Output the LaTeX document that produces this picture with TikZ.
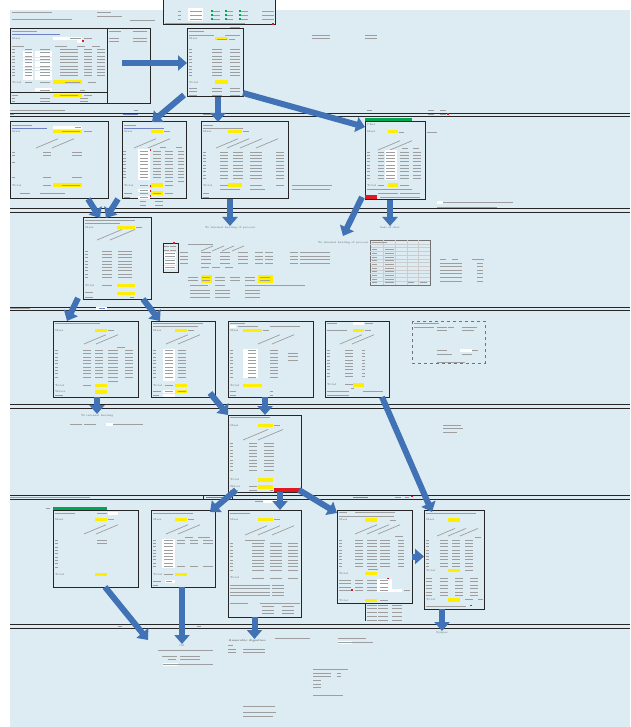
\documentclass[tikz,border=0pt]{standalone}
\usepackage{tikz}
\usetikzlibrary{arrows.meta}

\definecolor{sheetbg}{RGB}{220,236,242}
\definecolor{hlyellow}{RGB}{255,238,0}
\definecolor{flowblue}{RGB}{66,114,182}
\definecolor{okgreen}{RGB}{0,166,81}
\definecolor{badred}{RGB}{226,24,32}
\definecolor{inblue}{RGB}{110,130,200}

% rows of unreadable cell text: x/length pairs, first y, count, step
\newcommand{\txtrows}[4]{\foreach \cx/\cl in {#1}{\foreach \r in {1,...,#3}{\draw[txt] (\cx,{#2+(\r-1)*#4}) -- ++(\cl,0);}}}
% slanted column headers
\newcommand{\heads}[3]{\foreach \hx in {#1}{\draw[txt,line width=0.7pt] (\hx,#2) -- ++(#3,{-0.42*#3});}}
\newcommand{\ycell}[4]{\fill[hlyellow] (#1,#2) rectangle (#3,#4);}
\newcommand{\wcell}[4]{\fill[white] (#1,#2) rectangle (#3,#4);}

\begin{document}
\begin{tikzpicture}[x=1pt,y=-1pt,
  sheet/.style={draw=black!85,line width=1pt,fill=sheetbg,anchor=north west,inner sep=0pt,outer sep=0pt},
  dashbox/.style={draw=black!55,dashed,line width=0.8pt},
  txt/.style={black!38,line width=0.8pt},
  lbl/.style={anchor=west,inner sep=0pt,text=black!60,font=\fontsize{2.8}{3}\selectfont},
  note/.style={inner sep=0.5pt,text=black!60,font=\fontsize{2.8}{3}\selectfont},
  flow/.style={flowblue,line width=6pt,-{Triangle[width=15pt,length=9pt]}},
  sepline/.style={black!85,line width=0.9pt}]

\useasboundingbox (0,0) rectangle (630,727);
\fill[white] (0,0) rectangle (630,727);
\fill[sheetbg] (10,10) rectangle (630,727);

% section separators
\foreach \ya/\yb in {113/116.5,208/212,307/310.5,404/408,495/499,624/628}{
  \draw[sepline] (10,\ya) -- (630,\ya);
  \draw[sepline] (10,\yb) -- (630,\yb);
}

% ---------------- top row ----------------
\node[sheet,minimum width=112pt,minimum height=25pt] (Z) at (163,0) {};
\wcell{188}{8}{203}{21}
\txtrows{178/3,190/12,212/8,225/8,240/8,262/12}{11}{3}{4}
\foreach \gy in {11,15,19}{\foreach \gx in {211,225,239}{\fill[okgreen] (\gx,\gy-1) rectangle ++(1.6,1.6);}}
\txtrows{165/80}{23}{1}{0}
\fill[badred] (272,23) rectangle ++(2,2);
\txtrows{230/10}{27}{1}{0}

\txtrows{12/40}{12}{1}{0}
\txtrows{12/60}{19}{1}{0}
\txtrows{97/14}{12}{1}{0}
\txtrows{97/25}{16}{1}{0}
\txtrows{130/25}{20}{1}{0}
\txtrows{312/18,365/12}{35}{2}{3}

\node[sheet,minimum width=97pt,minimum height=75pt] (A) at (10,29) {};
\node[sheet,minimum width=43pt,minimum height=75pt] (Aside) at (107,29) {};
\draw[black!85,line width=1pt] (10,93) -- (107,93);
\txtrows{12/25}{31.5}{1}{0}
\draw[inblue,line width=0.8pt] (12,34.5) -- ++(48,0);
\node[lbl] at (12,38.5) {Mass};
\wcell{53}{37}{82}{40}
\txtrows{70/11,84/8}{38.5}{1}{0}
\wcell{77}{40.5}{82}{43}
\fill[badred] (82,40.5) rectangle ++(1.6,1.6);
\txtrows{12/12,55/12,77/8,92/8}{46}{1}{0}
\foreach \r in {1,...,9}{\wcell{23}{{47.8+\r*3.3}}{33}{{50.6+\r*3.3}}\wcell{35}{{47.8+\r*3.3}}{52}{{50.6+\r*3.3}}}
\txtrows{12/3,25/7,40/10,60/18,84/8,97/8}{49.5}{9}{3.3}
\node[lbl] at (12,82.3) {Total};
\txtrows{25/7,40/10}{82.3}{1}{0}
\ycell{53}{80.5}{82}{84}
\txtrows{65/15,88/8}{82.3}{1}{0}
\wcell{35}{88.5}{52}{91.5}
\txtrows{40/10,80/5}{90}{1}{0}
\ycell{53}{94}{82}{97}
\txtrows{12/6,60/18,84/8}{95.5}{1}{0}
\txtrows{12/3,40/10,80/8}{98.8}{2}{3}
\txtrows{109/12,133/14}{31}{1}{0}
\txtrows{109/10,133/14}{38}{2}{3.5}

\node[sheet,minimum width=56pt,minimum height=68pt] (B) at (187,29) {};
\txtrows{189/15}{31}{1}{0}
\txtrows{189/25,225/15}{35}{1}{0}
\node[lbl] at (189,39) {Mass};
\ycell{215}{37.5}{228}{40.5}
\txtrows{217/10,229/6}{39}{1}{0}
\txtrows{189/3,212/10,230/10}{49.5}{9}{3.3}
\node[lbl] at (189,82.3) {Total};
\ycell{215}{80.5}{228}{84}
\txtrows{189/8,212/10,230/10}{88}{3}{3.8}

% ---------------- second row ----------------
\txtrows{10/55,134/4}{110}{1}{0}
\txtrows{10/4,203/12}{114.8}{1}{0}
\draw[inblue,line width=0.8pt] (123,114.8) -- ++(15,0);
\txtrows{367/5,428/6,440/6}{110}{1}{0}
\txtrows{428/6,440/6}{114.8}{1}{0}
\fill[badred] (447,113.5) rectangle ++(2,1.8);

\node[sheet,minimum width=98pt,minimum height=77pt] (C) at (10,122) {};
\txtrows{12/20}{125}{1}{0}
\draw[inblue,line width=0.8pt] (12,128) -- ++(35,0);
\wcell{53}{126}{82}{129}
\txtrows{75/6}{127.5}{1}{0}
\node[lbl] at (12,131.5) {Mass};
\ycell{53}{130}{82}{133.5}
\txtrows{62/18,84/8}{131.7}{1}{0}
\heads{36,52}{148}{22}
\txtrows{12/3,43/8,72/10}{152.5}{2}{3.2}
\txtrows{12/3}{162}{1}{0}
\txtrows{12/3,43/8,72/10}{177.5}{1}{0}
\node[lbl] at (12,185.2) {Total};
\txtrows{43/8}{185.2}{1}{0}
\ycell{53}{183.5}{82}{187}
\txtrows{62/18}{185.2}{1}{0}
\txtrows{20/10,40/25}{193}{1}{0}

\node[sheet,minimum width=64pt,minimum height=77pt] (D) at (122,122) {};
\txtrows{124/12}{125}{1}{0}
\draw[inblue,line width=0.8pt] (124,128) -- ++(40,0);
\node[lbl] at (124,131.7) {Mass};
\ycell{151}{130.5}{163}{133.5}
\txtrows{164/6}{131.7}{1}{0}
\heads{134,148}{148}{22}
\txtrows{160/6,176/6}{147.5}{1}{0}
\wcell{138}{149.5}{150}{180}
\txtrows{123/3,140/8,153/8,165/8,178/6}{151.5}{9}{3.3}
\txtrows{165/8,178/6}{181.5}{1}{0}
\node[lbl] at (124,185.2) {Total};
\txtrows{140/8}{185.2}{1}{0}
\ycell{151}{183.5}{163}{187}
\txtrows{165/8}{185.2}{1}{0}
\wcell{138}{189}{150}{192}
\txtrows{140/8}{190.5}{1}{0}
\ycell{151}{191.5}{163}{195}
\txtrows{124/8,140/8,153/8,165/8}{193.5}{1}{0}
\wcell{138}{196}{150}{199}
\txtrows{124/6,140/8}{197.5}{1}{0}
\foreach \ry in {149,185.5,190.5,195}{\fill[badred] (149.5,\ry) rectangle ++(1.8,1.8);}
\txtrows{140/6,155/8}{201.5}{2}{4}

\node[sheet,minimum width=87pt,minimum height=77pt] (E) at (201,122) {};
\txtrows{203/10}{125}{1}{0}
\txtrows{203/40}{128}{1}{0}
\node[lbl] at (203,131.7) {Mass};
\ycell{228}{130.5}{242}{133.5}
\txtrows{243/6}{131.7}{1}{0}
\heads{216,227,240,256}{148}{22}
\txtrows{203/3,220/8,233/10,250/12,276/8}{152}{9}{3.3}
\node[lbl] at (203,185.2) {Total};
\txtrows{220/8}{185.2}{1}{0}
\ycell{228}{183.5}{242}{187}
\txtrows{250/12,276/8}{185.2}{1}{0}
\txtrows{220/20,250/15}{189}{1}{0}
\txtrows{203/6}{193}{2}{4}
\txtrows{292/40}{185.5}{1}{0}
\txtrows{292/38}{189}{1}{0}

\fill[okgreen] (365,118.5) rectangle (412,122);
\node[sheet,minimum width=60pt,minimum height=78pt] (F) at (365,122) {};
\node[lbl] at (367,125) {Char};
\node[lbl] at (367,132) {Mass};
\ycell{388}{130.5}{398}{133.5}
\txtrows{399/5,427/10}{132}{1}{0}
\heads{378,390}{150}{22}
\txtrows{402/6,413/6}{148}{1}{0}
\wcell{385}{150}{397}{180}
\txtrows{367/3,378/6,386/9,400/9,413/8}{152}{9}{3.3}
\node[lbl] at (367,185.2) {Total};
\txtrows{378/6}{185.2}{1}{0}
\ycell{388}{183.5}{398}{187}
\txtrows{400/9}{185.2}{1}{0}
\txtrows{367/45}{189}{1}{0}
\txtrows{378/20,400/20}{193}{1}{0}
\fill[badred] (365,195) rectangle (377,199.5);
\txtrows{380/40}{197.5}{1}{0}
\wcell{437}{201}{443}{204}
\txtrows{443/70}{202.5}{1}{0}
\txtrows{437/60}{207}{1}{0}

% ---------------- third row ----------------
\node[sheet,minimum width=68pt,minimum height=81pt] (G) at (83,218) {};
\txtrows{85/50}{220.5}{1}{0}
\txtrows{85/35}{223.5}{1}{0}
\node[lbl] at (85,227.2) {Mass};
\ycell{117}{225.5}{135}{229}
\txtrows{136/6}{227.2}{1}{0}
\heads{97,110}{240}{25}
\txtrows{85/3,102/10,118/14}{251}{9}{3.3}
\node[lbl] at (85,285.2) {Total};
\txtrows{102/10}{285.2}{1}{0}
\ycell{117}{283.5}{135}{287}
\txtrows{85/8}{292.8}{1}{0}
\ycell{117}{291.5}{135}{295}
\txtrows{85/8,130/4}{297.5}{1}{0}

\node[sheet,line width=1pt,minimum width=15pt,minimum height=29pt] (H) at (163,243) {};
\fill[badred] (173,241.5) rectangle ++(2.2,2.2);
\txtrows{164/5,170/6}{246.5}{2}{3.5}
\foreach \ry in {253,256.5,260,263.5,267}{\wcell{164}{\ry-1.5}{176}{\ry+1.5}}
\txtrows{165/5,170/5}{253}{5}{3.5}
\txtrows{188/25}{244.5}{1}{0}
\heads{201,212,222,232}{251}{12}
\txtrows{180/8,201/10,220/10,238/10,255/8,265/8,290/8}{252.5}{4}{3.5}
\txtrows{201/8,212/8,225/8}{267}{1}{0}
\ycell{201}{275}{212}{282.5}
\ycell{258}{275}{273}{282.5}
\txtrows{188/10,202/8,215/10,230/10,245/10,260/10}{277}{2}{3.5}
\txtrows{190/18,215/10,245/20,265/40}{285}{1}{0}
\txtrows{190/20,215/15,245/15}{290}{3}{3.5}
\txtrows{300/30}{252.5}{4}{3.5}

\node[dashbox,anchor=north west,inner sep=0pt,minimum width=60pt,minimum height=45pt] (I) at (370,240) {};
\foreach \gy in {0,...,10}{\draw[black!20,line width=0.6pt] (370,{244+\gy*3.7}) -- (430,{244+\gy*3.7});}
\foreach \gx in {383,395,407,418}{\draw[black!20,line width=0.6pt] (\gx,240) -- (\gx,285);}
\draw[dashbox] (370,240) rectangle (430,285);
\txtrows{372/15}{242.5}{1}{0}
\txtrows{372/5,385/9}{249.5}{10}{3.7}
\txtrows{408/6,420/7}{282.5}{1}{0}
\txtrows{440/6,452/6,472/12}{259.5}{1}{0}
\txtrows{440/12,452/10,477/6}{263}{6}{3.6}

\node[note] (heatE) at (230,226) [anchor=north] {To internal heating of process};
\node[note] (heatF) at (343,241) [anchor=north] {To internal heating of process};
\node[note] (saleF) at (390,226) [anchor=north] {Sale of char};

% ---------------- fourth row ----------------
\txtrows{10/20}{308.7}{1}{0}
\wcell{96}{307.3}{107}{310}
\draw[inblue,line width=0.8pt] (99,308.7) -- ++(6,0);

\node[sheet,minimum width=85pt,minimum height=76pt] (J) at (53,321) {};
\txtrows{55/45}{323}{1}{0}
\node[lbl] at (55,330.2) {Mass};
\ycell{95}{328.5}{107}{332}
\txtrows{108/6}{330.2}{1}{0}
\heads{84,96}{344}{22}
\txtrows{117/8}{347}{1}{0}
\txtrows{55/3,83/8,95/8,108/10,125/8}{350.5}{9}{3.3}
\txtrows{108/10}{381}{1}{0}
\node[lbl] at (55,385.2) {Total};
\txtrows{83/8}{385.2}{1}{0}
\ycell{95}{383.5}{107}{387}
\node[lbl] at (55,391.7) {Water};
\ycell{95}{390}{107}{393.5}
\txtrows{55/8}{395.5}{1}{0}

\node[sheet,minimum width=64pt,minimum height=76pt] (K) at (151,321) {};
\txtrows{153/50}{323}{1}{0}
\txtrows{153/45}{326.5}{1}{0}
\node[lbl] at (153,330.2) {Mass};
\ycell{175}{328.5}{187}{332}
\txtrows{188/6}{330.2}{1}{0}
\heads{166,178}{344}{22}
\wcell{163}{349}{175}{381}
\txtrows{153/3,165/8,178/8}{350.5}{9}{3.3}
\node[lbl] at (153,385.2) {Total};
\txtrows{165/8}{385.2}{1}{0}
\ycell{175}{383.5}{187}{387}
\wcell{163}{389.5}{175}{393}
\ycell{175}{389.5}{187}{393}
\txtrows{153/8,165/8,178/8}{391.2}{1}{0}
\wcell{163}{394}{175}{397}
\txtrows{153/6}{395.5}{1}{0}

\node[sheet,minimum width=85pt,minimum height=76pt] (L) at (228,321) {};
\txtrows{230/15}{323}{1}{0}
\wcell{230}{324.5}{236}{327.5}
\txtrows{238/20,270/30}{326}{1}{0}
\node[lbl] at (230,330.2) {Mass};
\ycell{243}{328.5}{262}{332}
\txtrows{263/6}{330.2}{1}{0}
\heads{258,272}{344}{22}
\wcell{243}{349}{258}{378}
\txtrows{230/3,248/8,270/8}{350.5}{9}{3.3}
\txtrows{288/10}{353}{3}{3.7}
\node[lbl] at (230,385.2) {Total};
\txtrows{248/8}{385.2}{1}{0}
\ycell{243}{383.5}{262}{387}
\txtrows{230/6,270/3}{391.5}{2}{3.5}

\node[sheet,minimum width=64pt,minimum height=76pt] (M) at (325,321) {};
\txtrows{327/10}{323}{1}{0}
\wcell{353}{321.5}{364}{324.5}
\txtrows{365/8}{323}{1}{0}
\txtrows{327/20}{330.2}{1}{0}
\ycell{353}{328.5}{364}{332}
\txtrows{365/6}{330.2}{1}{0}
\heads{340,352}{344}{22}
\txtrows{327/3,345/8,362/3}{350}{9}{3.3}
\node[lbl] at (327,384.8) {Total};
\txtrows{345/8}{384.8}{1}{0}
\ycell{353}{383}{364}{386.5}
\txtrows{351/3}{388}{1}{0}
\txtrows{327/22,363/20}{391.5}{1}{0}
\txtrows{327/22}{395}{1}{0}

\draw[dashbox] (412,321) rectangle (485,363);
\txtrows{414/25}{323.5}{1}{0}
\txtrows{414/20,437/10,448/6,462/15}{327}{1}{0}
\txtrows{437/10,462/12}{330.5}{1}{0}
\wcell{460}{348.5}{472}{351.5}
\txtrows{437/10,472/6}{350}{1}{0}
\txtrows{437/15,462/10}{354.5}{1}{0}
\txtrows{437/28}{362}{1}{0}

\node[note] (heatJ) at (97,414) [anchor=north] {To internal heating};
\wcell{106}{423}{113}{426}
\txtrows{70/12,84/12,113/30}{424.5}{1}{0}

% ---------------- fifth row ----------------
\node[sheet,minimum width=73pt,minimum height=77pt] (O) at (228,415) {};
\txtrows{230/40}{417.5}{1}{0}
\node[lbl] at (230,425.2) {Mass};
\ycell{258}{423.5}{273}{427}
\txtrows{274/6}{425.2}{1}{0}
\heads{243,258}{440}{25}
\txtrows{230/3,249/8,264/10}{443.5}{9}{3.3}
\node[lbl] at (230,479.8) {Total};
\ycell{258}{478}{273}{481.5}
\node[lbl] at (230,486.7) {Water};
\txtrows{249/8}{486.7}{1}{0}
\ycell{258}{485}{273}{488.5}
\txtrows{230/8,249/8,270/3}{490}{1}{0}
\fill[badred] (274,487.5) rectangle (302,491.5);

\txtrows{443/18}{425}{1}{0}
\txtrows{443/20}{428.5}{1}{0}
\txtrows{443/14}{432}{1}{0}

% ---------------- sixth row ----------------
\txtrows{10/80}{497}{1}{0}
\draw[black!85,line width=0.6pt] (203,495) -- (203,499) (232,495) -- (232,499);
\draw[inblue,line width=0.8pt] (206,497) -- ++(18,0) (353,497) -- ++(15,0);
\txtrows{395/6,405/4}{497}{1}{0}
\fill[badred] (411,495.5) rectangle ++(2,1.8);
\txtrows{255/8}{501}{1}{0}
\wcell{263}{499.5}{278}{502.5}

\fill[okgreen] (53,506.5) rectangle (107,510);
\txtrows{46/4}{508}{1}{0}
\node[sheet,minimum width=85pt,minimum height=77pt] (P) at (53,510) {};
\txtrows{55/20,97/10}{513}{1}{0}
\wcell{108}{511.5}{118}{514.5}
\node[lbl] at (55,519.2) {Mass};
\ycell{95}{517.5}{107}{521}
\txtrows{108/6}{519.2}{1}{0}
\heads{84,96}{534}{22}
\txtrows{55/3}{540.5}{9}{3.3}
\txtrows{97/10}{540.5}{2}{3.3}
\node[lbl] at (55,574.3) {Total};
\ycell{95}{572.5}{107}{576}

\node[sheet,minimum width=64pt,minimum height=77pt] (Q) at (151,510) {};
\txtrows{153/40}{513}{1}{0}
\node[lbl] at (153,519.2) {Mass};
\ycell{175}{517.5}{187}{521}
\txtrows{188/6}{519.2}{1}{0}
\heads{166,178}{534}{22}
\txtrows{185/8,198/12}{537}{1}{0}
\wcell{162}{538.5}{175}{568}
\txtrows{153/3,164/9}{540}{9}{3.3}
\txtrows{177/8,190/8,203/10}{540}{2}{3.3}
\txtrows{177/8,190/8,203/10}{566.4}{1}{0}
\node[lbl] at (153,574.3) {Total};
\txtrows{164/9}{574.3}{1}{0}
\ycell{175}{572.5}{187}{576}
\wcell{165}{580}{175}{583}
\txtrows{153/8,166/6}{581.5}{1}{0}
\txtrows{153/5}{585}{1}{0}

\node[sheet,minimum width=73pt,minimum height=107pt] (R) at (228,510) {};
\txtrows{230/20}{513}{1}{0}
\node[lbl] at (230,519.2) {Mass};
\ycell{258}{517.5}{273}{521}
\txtrows{274/6}{519.2}{1}{0}
\heads{245,258,272}{535}{22}
\txtrows{245/20}{540}{1}{0}
\txtrows{230/3,252/12,270/12,288/10}{543.5}{9}{3.3}
\node[lbl] at (230,578) {Total};
\txtrows{252/12,270/12,288/10}{578}{1}{0}
\txtrows{230/40,272/12}{585}{4}{3.6}
\txtrows{230/18,260/40}{603}{1}{0}
\txtrows{262/12,282/12}{606.5}{3}{3.5}

\node[sheet,minimum width=75pt,minimum height=93pt] (S) at (337,510) {};
\txtrows{339/8,355/40}{512.5}{1}{0}
\txtrows{339/55}{516}{1}{0}
\node[lbl] at (339,520) {Mass};
\ycell{365}{518}{377}{521.5}
\txtrows{390/6}{520}{1}{0}
\heads{355,367,378}{534}{22}
\txtrows{395/8}{536.5}{1}{0}
\txtrows{339/3,355/8,367/10,380/10,398/6}{540}{9}{3.3}
\txtrows{368/10}{569}{1}{0}
\node[lbl] at (339,573.3) {Total};
\ycell{365}{571.5}{377}{575}
\wcell{377}{578.5}{392}{592}
\txtrows{339/12,355/8,367/10,380/8}{580}{4}{3.5}
\wcell{392}{589}{402}{592}
\txtrows{404/6}{590.5}{1}{0}
\fill[badred] (387,577.5) rectangle ++(2,1.8);
\fill[badred] (351,589) rectangle ++(2,1.8);
\node[lbl] at (339,600.3) {Total};
\ycell{365}{598.5}{377}{602}
\txtrows{380/8}{600.3}{1}{0}
\draw[black!85,line width=1pt] (365,603) -- (365,621);
\txtrows{367/10,378/10,392/10}{605}{5}{3.8}

\node[sheet,minimum width=60pt,minimum height=99pt] (T) at (424,510) {};
\txtrows{426/50}{513}{1}{0}
\node[lbl] at (426,520) {Mass};
\ycell{448}{518}{460}{521.5}
\heads{437,448,460}{536}{18}
\txtrows{475/6}{537}{1}{0}
\txtrows{426/3,440/8,452/8,465/8}{540}{9}{3.3}
\node[lbl] at (426,570.2) {Total};
\ycell{448}{568.5}{460}{572}
\txtrows{465/8}{570.2}{1}{0}
\txtrows{426/6,440/8,455/8,470/8}{578}{6}{3.5}
\node[lbl] at (426,599.8) {Total};
\ycell{448}{598}{460}{601.5}
\txtrows{465/8,478/5}{599.8}{1}{0}
\txtrows{426/40}{606}{1}{0}
\fill[badred] (470,604.5) rectangle ++(2,1.8);

% ---------------- bottom ----------------
\txtrows{118/4,197/4}{626.3}{1}{0}
\node[note] (outPQ) at (182,644) [anchor=north] {Oil};
\txtrows{158/55}{650}{1}{0}
\txtrows{162/15,180/20}{656}{1}{0}
\txtrows{168/8,180/20}{659.5}{1}{0}
\wcell{163}{662.5}{178}{665.5}
\txtrows{163/50}{664}{1}{0}
\node[note,anchor=north west] (adR) at (228,639) {\bfseries Anaerobic digestion};
\txtrows{228/5}{645}{1}{0}
\txtrows{228/8,243/22}{649}{2}{3.5}
\txtrows{275/35}{638}{1}{0}
\txtrows{338/28}{638}{1}{0}
\wcell{338}{640.5}{352}{643.5}
\txtrows{338/35}{642}{1}{0}
\node[note] (expT) at (442,631) [anchor=north] {Syngas};
\txtrows{313/35}{669}{1}{0}
\txtrows{313/18,337/4}{673}{2}{3.8}
\txtrows{313/8}{680.5}{3}{3.6}
\txtrows{313/30}{695}{1}{0}
\txtrows{243/32}{706}{1}{0}
\txtrows{243/33}{712}{1}{0}
\txtrows{243/30}{716}{1}{0}

% ---------------- flows ----------------
\draw[flow] ([xshift=-6.5pt,yshift=3.5pt]Aside.center) -- (B.west);
\draw[flow] ([xshift=-3pt,yshift=2pt]B.south west) -- ([xshift=30pt]D.north west);
\draw[flow] ([xshift=3pt]B.south) -- ([xshift=3pt]B.south |- E.north);
\draw[flow] ([yshift=4pt]B.south east) -- ([yshift=-5pt]F.north west);
\draw[flow] ([xshift=-20pt]C.south east) -- ([xshift=17pt]G.north west);
\draw[flow] ([xshift=-4pt]D.south west) -- ([xshift=23pt]G.north west);
\draw[flow] ([xshift=-14.5pt]E.south) -- (heatE.north);
\draw[flow] ([xshift=-3pt,yshift=3pt]F.south west) -- ([yshift=5pt]heatF.north);
\draw[flow] ([xshift=-5pt]F.south) -- (saleF.north);
\draw[flow] ([xshift=-5pt,yshift=1pt]G.south west) -- ([xshift=14pt]J.north west);
\draw[flow] ([xshift=-8pt]G.south east) -- ([xshift=9pt]K.north west);
\draw[flow] ([xshift=1.5pt]J.south) -- (heatJ.north);
\draw[flow] ([xshift=-5pt,yshift=4pt]K.south east) -- (O.north west);
\draw[flow] ([xshift=-5.5pt]L.south) -- ([xshift=-5.5pt]L.south |- O.north);
\draw[flow] ([xshift=-7pt]M.south east) -- ([xshift=8pt,yshift=-2pt]T.north west);
\draw[flow] ([xshift=8pt,yshift=2pt]O.south west) -- ([xshift=-5pt,yshift=-2pt]Q.north east);
\draw[flow] ([xshift=15.5pt]O.south) -- ([xshift=15.5pt]O.south |- R.north);
\draw[flow] ([xshift=-2pt,yshift=2pt]O.south east) -- ([yshift=-3pt]S.north west);
\draw[flow] (S.east) -- (S.east -| T.west);
\draw[flow] ([xshift=9.5pt]P.south) -- ([xshift=-34pt,yshift=4pt]outPQ.north);
\draw[flow] ([xshift=-1pt]Q.south) -- ([xshift=-1pt]Q.south |- outPQ.north);
\draw[flow] ([xshift=-10pt]R.south) -- ([xshift=-10pt]R.south |- adR.north);
\draw[flow] ([xshift=-12pt]T.south) -- (expT.north);

\end{tikzpicture}
\end{document}
